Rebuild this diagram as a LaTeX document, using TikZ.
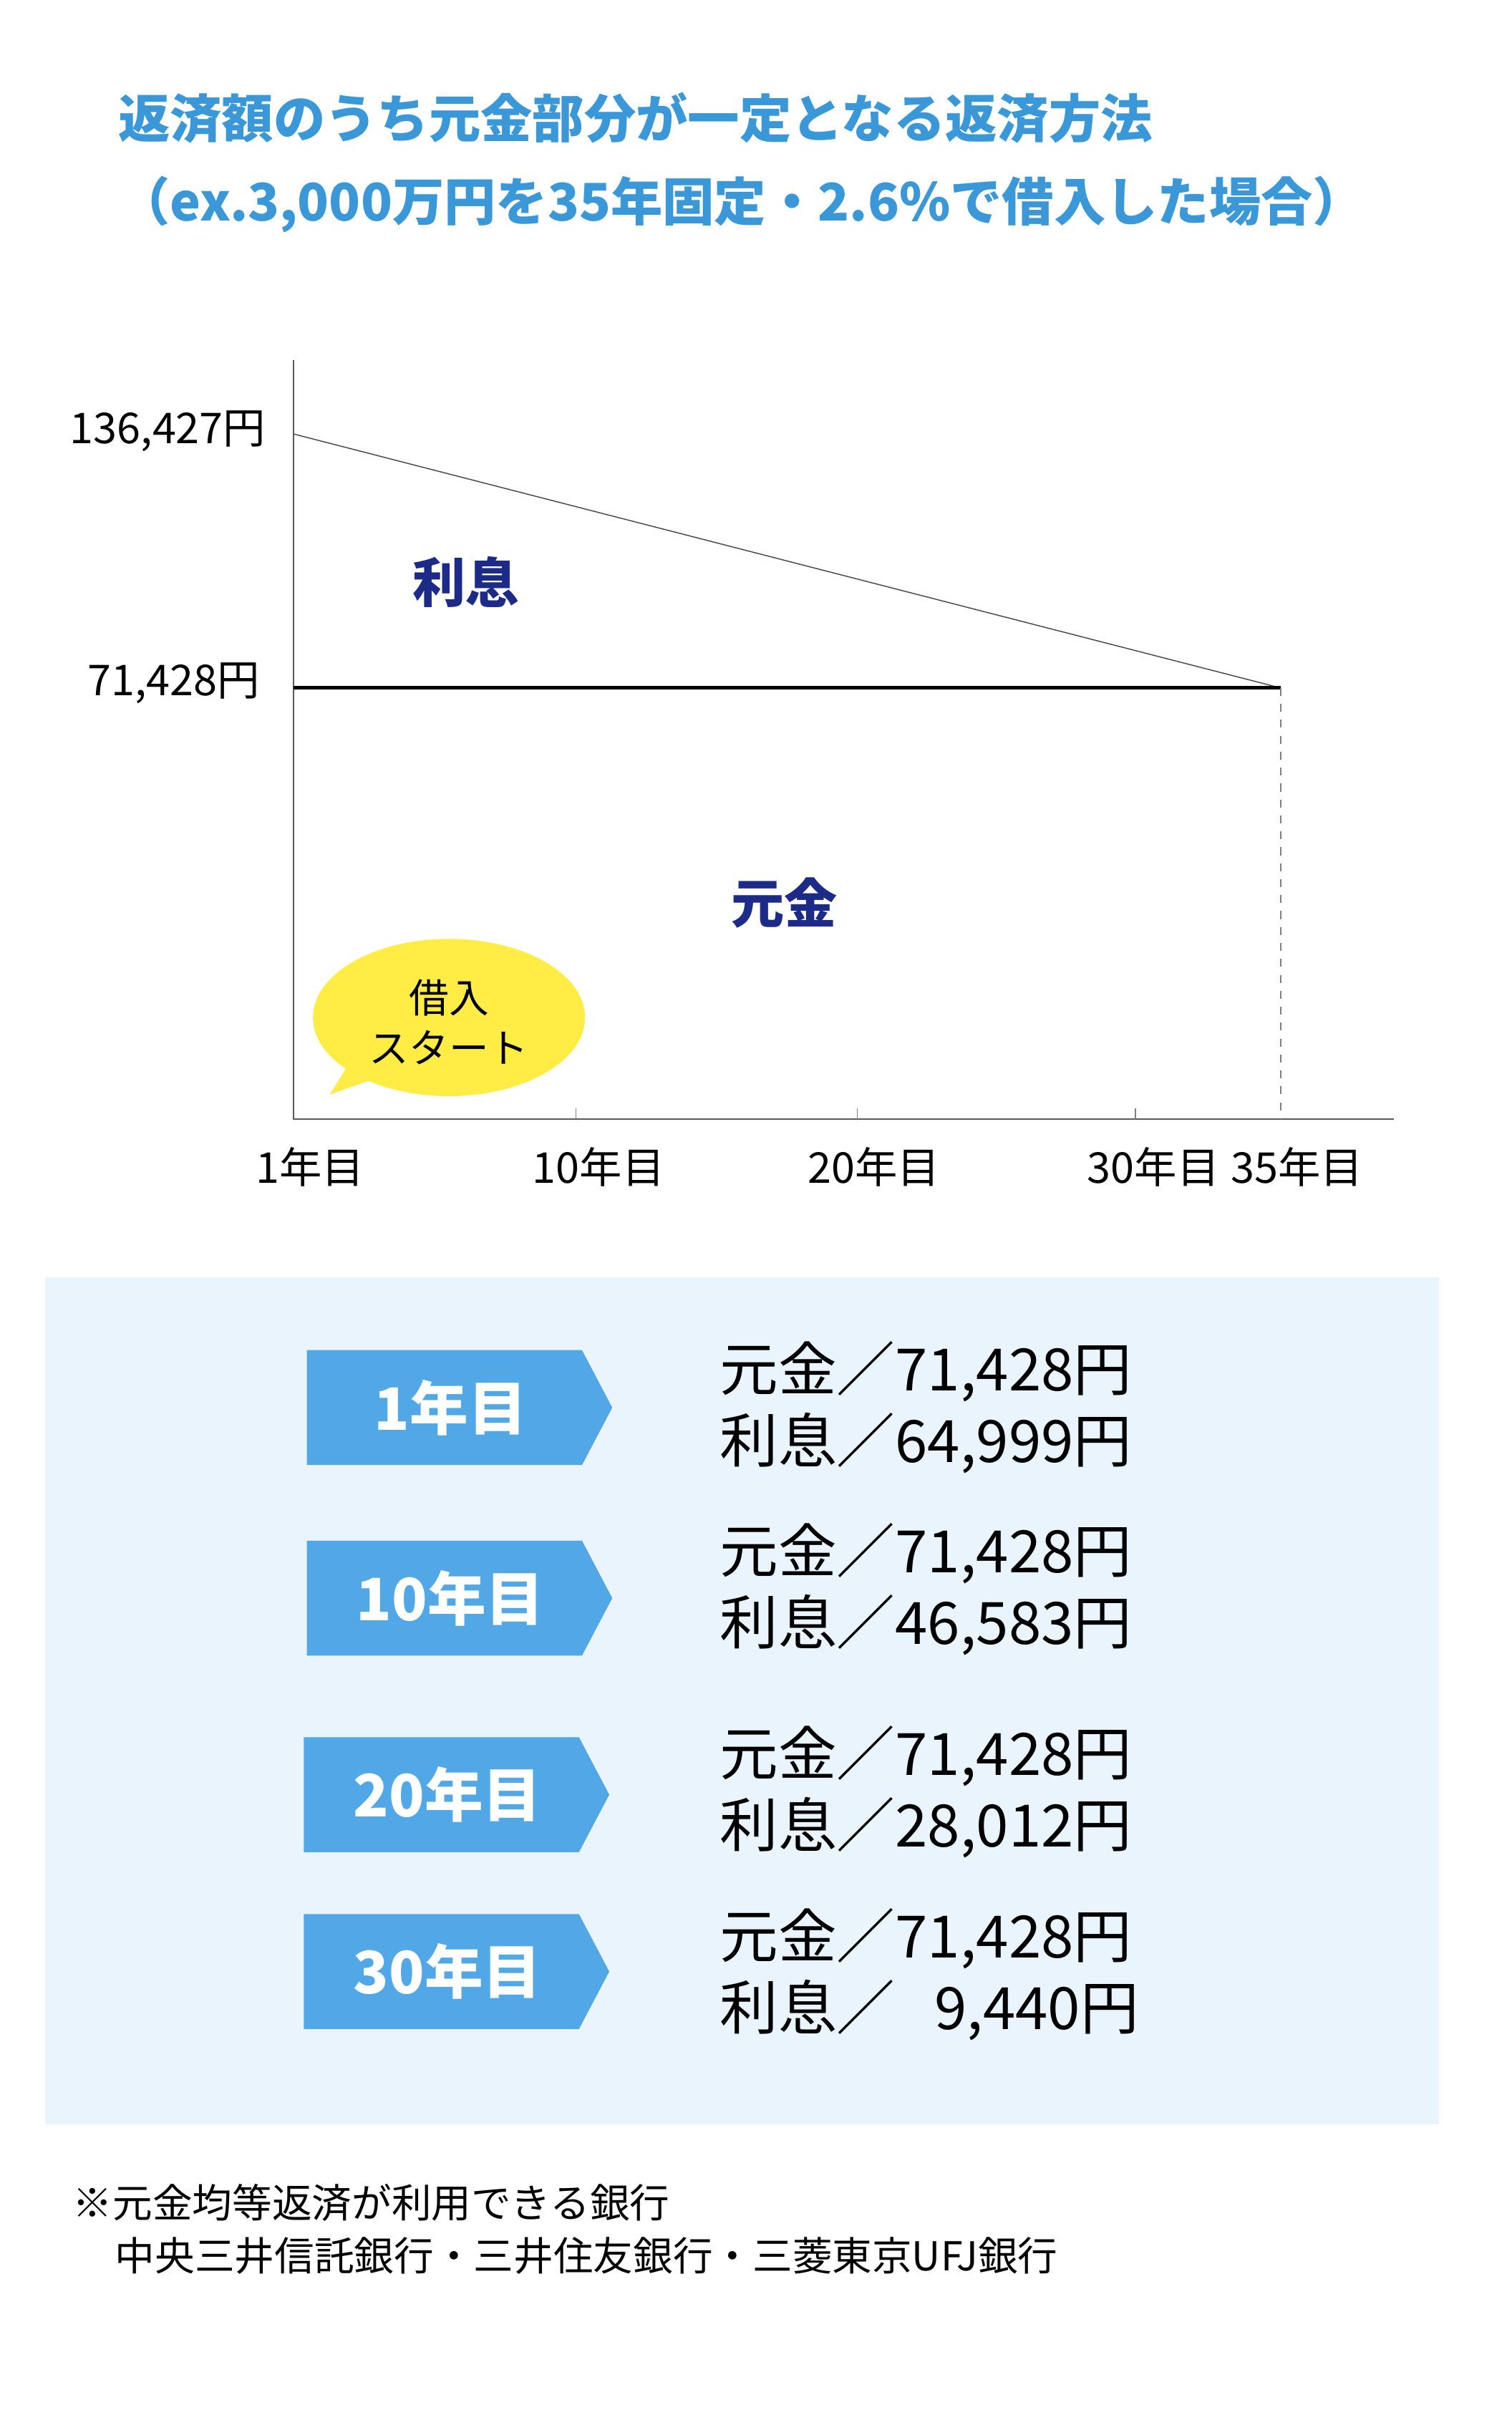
\documentclass[tikz,border=0pt]{standalone}
\usepackage{fontspec}
\setmainfont{Noto Sans CJK JP}
\usetikzlibrary{shapes.symbols}
\definecolor{titleblue}{HTML}{3A98D8}
\definecolor{navy}{HTML}{1C2A88}
\definecolor{bubble}{HTML}{FFEC45}
\definecolor{panel}{HTML}{EAF4FC}
\definecolor{tagblue}{HTML}{52A8E6}
\tikzset{
  axlbl/.style={font=\fontsize{16}{18}\selectfont},
  part/.style={font=\fontsize{20}{22}\selectfont\bfseries,text=navy},
  vals/.style={font=\fontsize{22}{27}\selectfont,align=left,anchor=west},
  tagtext/.style={font=\fontsize{22}{24}\selectfont\bfseries,text=white}
}
\newcommand{\yeartag}[4]{% x, y-center, label, name
  \fill[tagblue] (#1,#2-38) -- (#1+182,#2-38) -- (#1+202,#2) -- (#1+182,#2+38) -- (#1,#2+38) -- cycle;
  \node[tagtext] (#4) at (#1+95,#2) {#3};}
\begin{document}
\begin{tikzpicture}[x=0.02cm,y=-0.02cm]
  \useasboundingbox[fill=white] (0,0) rectangle (1000,1594);
  % title
  \node[anchor=west,text=titleblue,font=\fontsize{19.5}{22}\selectfont\bfseries] (t1) at (72,78) {返済額のうち元金部分が一定となる返済方法};
  \node[anchor=west,text=titleblue,font=\fontsize{19.5}{22}\selectfont\bfseries] (t2) at (72,135) {（ex.3,000万円を35年固定・2.6\%で借入した場合）};
  % axes
  \coordinate (o) at (194,740);
  \coordinate (ytop) at (194,238);
  \coordinate (xend) at (922,740);
  \coordinate (a) at (194,287);
  \coordinate (b) at (194,455);
  \coordinate (e) at (847,455);
  \coordinate (ebase) at (847,740);
  \draw[gray!70!black,line width=0.6pt] (ytop) -- (o) -- (xend);
  \draw[gray!60!black,line width=0.4pt] (a) -- (e);
  \draw[line width=1.4pt] (b) -- (e);
  \draw[gray,dashed,line width=0.5pt] (e) -- (ebase);
  \foreach \x in {381,567,751} \draw[gray] (\x,740) -- (\x,733);
  \node[axlbl,anchor=east] (v1) at (182,285) {136,427円};
  \node[axlbl,anchor=east] (v2) at (178,452) {71,428円};
  \node[part] (ri) at (308,385) {利息};
  \node[part] (gk) at (519,597) {元金};
  % bubble
  \fill[bubble] (230,705) -- (218,724) -- (252,712) -- cycle;
  \fill[bubble] (297,673) ellipse (90 and 52);
  \node[font=\fontsize{15}{19}\selectfont,align=center] (bb) at (297,676) {借入\\スタート};
  \node[axlbl] (x1) at (205,772) {1年目};
  \node[axlbl] (x10) at (396,772) {10年目};
  \node[axlbl] (x20) at (578,772) {20年目};
  \node[axlbl] (x30) at (763,772) {30年目};
  \node[axlbl] (x35) at (858,772) {35年目};
  % panel
  \fill[panel] (30,845) rectangle (952,1405);
  \yeartag{203}{931}{1年目}{g1}
  \yeartag{203}{1057}{10年目}{g10}
  \yeartag{201}{1187}{20年目}{g20}
  \yeartag{201}{1304}{30年目}{g30}
  \node[vals] (r1) at (470,931) {元金／71,428円\\利息／64,999円};
  \node[vals] (r10) at (470,1051) {元金／71,428円\\利息／46,583円};
  \node[vals] (r20) at (470,1185) {元金／71,428円\\利息／28,012円};
  \node[vals] (r30) at (470,1306) {元金／71,428円\\利息／\ \ \ 9,440円};
  % note
  \node[anchor=west,font=\fontsize{15}{18}\selectfont] (n1) at (42,1457) {※元金均等返済が利用できる銀行};
  \node[anchor=west,font=\fontsize{15}{18}\selectfont] (n2) at (70,1492) {中央三井信託銀行・三井住友銀行・三菱東京UFJ銀行};
\end{tikzpicture}
\end{document}
